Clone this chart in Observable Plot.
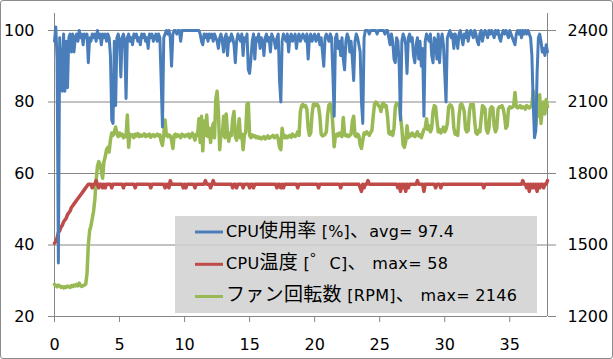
<!DOCTYPE html>
<html><head><meta charset="utf-8">
<script src="https://cdn.jsdelivr.net/npm/d3@7"></script>
<script src="https://cdn.jsdelivr.net/npm/@observablehq/plot@0.6"></script>
<style>
html,body{margin:0;padding:0;background:#fff;}
#wrap{position:relative;width:613px;height:359px;overflow:hidden;}
#wrap svg{display:block;}
#border{position:absolute;left:0;top:0;width:613px;height:359px;box-sizing:border-box;border:1px solid #8c8c8c;border-radius:3px;pointer-events:none;}
</style></head><body><div id="wrap"><div id="border"></div></div>
<script>
// sample interval in minutes
const T_STEP = 0.1;

// CPU usage [%] (left axis), one value per 0.1 min
const cpuUsage = [
97,101,92,35,98,90,83,99,83,97,
84,98,99,94,99,94,98,99,97,100,
98,99,96,99,98,99,91,98,97,99,
98,99,97,100,98,99,96,99,98,99,
97,99,98,93,75,74,97,79,98,99,
97,87,98,99,97,81,98,99,97,98,
96,99,98,99,97,98,96,99,98,99,
97,98,95,99,98,99,97,98,99,97,
99,98,86,73,98,99,100,99,100,98,
90,99,100,100,99,100,100,97,100,100,
100,100,100,100,100,100,100,100,100,100,
100,100,99,97,96,99,98,99,97,99,
98,99,97,99,98,97,95,98,99,97,
94,98,99,93,98,97,99,98,96,91,
97,99,98,97,99,93,98,97,99,89,
88,92,97,99,92,98,97,99,95,98,
97,93,98,99,97,98,94,99,98,97,
95,98,99,86,80,97,99,98,97,99,
94,98,99,97,98,99,95,98,99,97,
98,99,98,97,99,92,98,99,97,98,
99,97,98,99,96,98,94,90,98,99,
98,97,99,98,88,76,98,99,95,97,
93,98,92,89,97,99,98,94,97,92,
86,97,99,98,96,94,80,74,98,100,
100,100,99,100,100,100,100,100,99,100,
100,100,100,100,99,100,100,98,96,99,
97,92,91,98,97,90,75,97,99,98,
96,88,98,99,97,98,93,91,96,98,
92,97,90,95,76,97,99,98,97,99,
93,91,98,97,92,99,91,97,99,96,
88,80,98,99,100,98,99,95,99,98,
95,99,100,98,96,99,98,100,97,99,
100,99,98,100,99,97,96,99,100,97,
99,100,99,98,100,99,100,99,98,100,
99,100,98,97,99,100,99,100,99,98,
100,99,98,97,96,99,100,99,100,98,
100,99,100,99,100,99,98,93,80,70,
72,88,98,99,97,94,95,93,96,94
];

// CPU temperature [°C] (left axis)
const cpuTemp = [
40.5,41,42,43.5,44,45,45.5,46.5,47,47.5,
48.5,49,49.5,50.5,51,51.5,52,52.5,53,53.5,
54,54.5,55,55.5,56,56.5,57,57,57,56,
57,57,58,57,56,57,57,56,57,56,
57,57,57,57,56,57,57,57,57,57,
57,57,57,56,57,57,57,57,57,57,
57,57,56,57,57,57,57,57,57,57,
57,57,57,57,56,57,57,57,57,57,
57,57,57,57,57,56,57,57,56,58,
57,57,57,57,57,57,57,57,57,56,
57,56,57,57,57,57,57,57,56,57,
57,57,57,57,57,57,58,57,57,57,
56,57,58,57,57,57,57,57,57,57,
57,57,57,57,57,57,57,56,57,57,
56,57,57,57,57,56,57,57,57,57,
56,57,57,56,57,57,57,57,57,57,
57,57,57,57,57,57,57,57,57,57,
57,56,57,57,56,57,56,57,57,57,
57,57,57,57,57,57,57,56,57,57,
57,57,57,57,57,57,57,57,57,57,
57,57,57,56,57,57,57,57,57,57,
57,57,57,57,57,57,57,57,57,57,
56,57,57,57,57,57,57,57,57,57,
57,57,57,57,57,56,55,57,56,57,
57,58,57,57,57,57,57,57,57,57,
57,57,57,57,57,57,57,57,57,57,
57,57,57,57,56,57,55,57,56,57,
55,57,56,57,57,57,57,57,57,58,
57,57,57,57,55,57,57,57,57,57,
57,57,57,56,57,57,57,56,57,57,
57,57,57,57,57,57,57,57,57,57,
57,57,57,57,57,57,57,57,57,57,
57,57,57,57,57,57,57,57,57,57,
56,57,57,57,57,57,57,57,57,57,
57,57,57,57,57,57,57,57,57,57,
57,57,57,57,57,57,57,57,57,57,
58,57,57,56,57,55,57,56,57,56,
57,55,57,56,57,57,56,57,57,58
];

// Fan speed [RPM] (right axis)
const fanRpm = [
1335,1330,1325,1332,1328,1322,1326,1320,1325,1322,
1328,1325,1322,1330,1326,1332,1328,1335,1328,1340,
1330,1326,1330,1332,1335,1380,1500,1560,1580,1610,
1640,1690,1770,1830,1850,1840,1810,1780,1850,1870,
1900,1910,1890,1940,1970,1960,1975,1995,1965,1955,
1970,1960,1965,1950,1960,1955,2045,1910,1965,1958,
1962,1950,1965,1958,1968,1955,1962,1957,1960,1966,
1955,1962,1958,1965,1952,1960,1963,1955,1960,1965,
1958,1962,1935,1918,1965,2025,1960,1955,1962,1958,
1940,1905,1960,1965,1955,1962,1958,1950,1965,1960,
1955,1962,1958,1965,1950,1960,1970,1955,1940,1965,
1960,2030,1930,2040,1895,2020,1960,2045,1955,1990,
1930,1980,2010,1950,2110,2145,2060,1900,1970,1960,
2040,1950,2050,1965,1935,1970,1960,2030,2060,1955,
1940,1975,2030,1950,1965,1900,1960,1975,2090,2095,
1960,1950,1962,1955,1958,1950,1955,1948,1952,1945,
1950,1955,1945,1950,1958,1948,1952,1955,1960,1950,
1955,1960,1945,1910,1900,1990,1955,1950,1958,1950,
1955,1960,1952,1965,1958,1955,1962,1975,1960,2060,
2085,2090,2080,2085,2070,1990,1960,1970,2050,2090,
2092,2085,2090,2080,2040,1965,1958,1960,1965,1975,
2050,2088,2092,2080,2000,1912,1960,1965,1958,1970,
1960,1955,2035,1965,1958,1962,1955,1960,1965,2020,
2040,1960,1955,1965,1958,1920,1905,1940,1970,1965,
1975,1968,1960,1972,1980,2040,2090,2100,2095,2085,
2080,2060,2090,2095,2080,2085,2040,1970,1965,1975,
1960,1990,2080,2095,2090,2085,2040,1990,1920,1910,
1935,2000,1950,1965,1958,1970,1960,1955,1965,1975,
1958,1962,1950,1968,1985,1990,2030,1985,2000,1975,
1990,2060,2085,2080,2020,1975,1985,1970,1980,1995,
1975,1985,2010,2080,2088,2085,2070,1990,1965,1975,
1960,2040,2088,2092,2080,2060,1985,1975,1980,2060,
2090,2085,2090,2020,1970,1965,1980,1975,2030,2085,
2080,2070,1985,1970,1990,2070,2080,2075,2000,1975,
1990,2070,2080,2078,2085,2070,2040,1990,2000,2070,
2080,2075,2078,2085,2140,2080,2075,2078,2085,2075,
2080,2078,2070,2085,2080,2075,2080,2090,2146,2060,
2000,2080,2040,2130,2010,2070,2100,2050,2110,2080
];

const xTicks = [0, 5, 10, 15, 20, 25, 30, 35];
const xMax = 37.9;
const leftTicks = [20, 40, 60, 80, 100];
const leftMax = 104.76;
const rightTicks = [1200, 1500, 1800, 2100, 2400];
const seriesNames = ["CPU使用率 [%]、avg= 97.4", "CPU温度 [゜C]、 max= 58", "ファン回転数 [RPM]、 max= 2146"];
const seriesColors = ["#4a7ebb", "#be4b48", "#98b954"];

// right axis (RPM) mapped onto the left scale: 1200..2400 <-> 20..100
const rpmToLeft = r => 20 + (r - 1200) / 15;
const leftToRpm = v => String(Math.round(1200 + (v - 20) * 15));

const n = Math.min(cpuUsage.length, cpuTemp.length, fanRpm.length);
const rows = d3.range(n).map(i => ({t: +(i * T_STEP).toFixed(1), usage: cpuUsage[i], temp: cpuTemp[i], rpm: fanRpm[i]}));

const grid = "#868686";
const chart = Plot.plot({
  width: 613, height: 359,
  marginLeft: 54, marginRight: 66, marginTop: 13, marginBottom: 43,
  style: {fontFamily: "'DejaVu Sans', sans-serif", fontSize: "16px", color: "black", background: "transparent"},
  x: {domain: [0, xMax]},
  y: {domain: [20, leftMax]},
  marks: [
    Plot.gridY(leftTicks.filter(d => d > 20), {stroke: grid, strokeOpacity: 1}),
    Plot.ruleY([20], {stroke: grid}),
    Plot.ruleX([0, xMax], {stroke: grid}),
    Plot.axisY({ticks: leftTicks, tickFormat: d => String(d), tickSize: 6, tickPadding: 14, stroke: grid, fill: "black", label: null}),
    Plot.axisY({anchor: "right", ticks: rightTicks.map(rpmToLeft), tickFormat: leftToRpm, tickSize: 8, tickPadding: 12, stroke: grid, fill: "black", label: null}),
    Plot.axisX({ticks: xTicks, tickFormat: d => String(d), tickSize: 6, tickPadding: 16, stroke: grid, fill: "black", label: null}),
    Plot.line(rows, {x: "t", y: d => rpmToLeft(d.rpm), stroke: seriesColors[2], strokeWidth: 3.5}),
    Plot.line(rows, {x: "t", y: "temp", stroke: seriesColors[1], strokeWidth: 3.5}),
    Plot.line(rows, {x: "t", y: "usage", stroke: seriesColors[0], strokeWidth: 3})
  ]
});
const wrap = document.getElementById("wrap");
wrap.insertBefore(chart, wrap.firstChild);

// legend box (inside the plot area, lower right)
const svg = d3.select(chart);
const lg = svg.append("g").attr("text-anchor", "start");
lg.append("rect").attr("x", 175).attr("y", 216).attr("width", 362).attr("height", 97)
  .attr("fill", "#d0d0d0").attr("fill-opacity", 0.85);
const baselines = [236.5, 268.8, 301];
const lens = [228, 222, 291];
const cjk = /[\u3000-\u30ff\u4e00-\u9fff\uff00-\uffef]/;
seriesNames.forEach((name, i) => {
  const y = baselines[i];
  lg.append("line").attr("x1", 195).attr("x2", 223).attr("y1", y - 4.5).attr("y2", y - 4.5)
    .attr("stroke", seriesColors[i]).attr("stroke-width", 3);
  const t = lg.append("text").attr("x", 226).attr("y", y).attr("text-anchor", "start")
    .attr("font-family", "'DejaVu Sans', 'Noto Sans CJK JP', sans-serif").attr("font-size", 16)
    .attr("fill", "black").attr("textLength", lens[i]).attr("lengthAdjust", "spacing")
    .style("white-space", "pre");
  // split runs of CJK / Latin characters
  const runs = [];
  for (const ch of name) {
    const isC = cjk.test(ch);
    if (runs.length && runs[runs.length - 1].c === isC) runs[runs.length - 1].s += ch;
    else runs.push({c: isC, s: ch});
  }
  runs.forEach(r => {
    const ts = t.append("tspan").text(r.s);
    if (r.c) ts.attr("font-family", "'Noto Sans CJK JP', sans-serif").attr("font-size", 19);
  });
});
</script>
</body></html>
